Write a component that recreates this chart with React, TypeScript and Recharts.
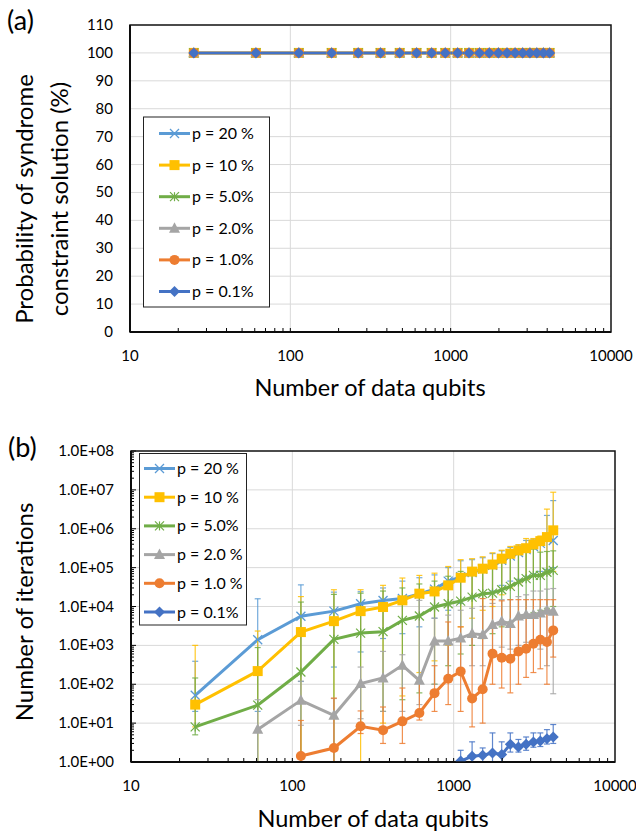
import { CartesianGrid, ErrorBar, Line, LineChart, XAxis, YAxis } from 'recharts'

const FONT = 'Lato, "Open Sans", sans-serif'

// number of data qubits (x)
const qubits = [25, 61, 113, 181, 265, 365, 481, 613, 761, 925, 1105, 1301, 1513, 1741, 1985, 2245, 2521, 2813, 3121, 3445, 3785, 4141]

// (a) probability of syndrome constraint solution (%)
const probP20 = [100, 100, 100, 100, 100, 100, 100, 100, 100, 100, 100, 100, 100, 100, 100, 100, 100, 100, 100, 100, 100, 100]
const probP10 = [100, 100, 100, 100, 100, 100, 100, 100, 100, 100, 100, 100, 100, 100, 100, 100, 100, 100, 100, 100, 100, 100]
const probP5 = [100, 100, 100, 100, 100, 100, 100, 100, 100, 100, 100, 100, 100, 100, 100, 100, 100, 100, 100, 100, 100, 100]
const probP2 = [100, 100, 100, 100, 100, 100, 100, 100, 100, 100, 100, 100, 100, 100, 100, 100, 100, 100, 100, 100, 100, 100]
const probP1 = [100, 100, 100, 100, 100, 100, 100, 100, 100, 100, 100, 100, 100, 100, 100, 100, 100, 100, 100, 100, 100, 100]
const probP01 = [100, 100, 100, 100, 100, 100, 100, 100, 100, 100, 100, 100, 100, 100, 100, 100, 100, 100, 100, 100, 100, 100]

// (b) number of iterations, with error bar ends (lo / hi)
const iterP20 = [52, 1400, 5600, 7600, 11800, 14300, 16000, 21000, 28000, 45000, 58000, 75000, 92000, 115000, 155000, 200000, 245000, 290000, 350000, 420000, 560000, 500000]
const hiP20 = [390, 15800, 36000, 23400, 24000, 30000, 45000, 55000, 65000, 100000, 150000, 160000, 180000, 230000, 270000, 330000, 380000, 500000, 540000, 620000, 2200000, 5300000]
const loP20 = [20, 20, 118, 277, 676, 1500, 2000, 3000, 5000, 8000, 12000, 16000, 20000, 25000, 35000, 45000, 50000, 60000, 70000, 80000, 90000, 100000]

const iterP10 = [30, 218, 2200, 4200, 7600, 9700, 14400, 21400, 24400, 35000, 55000, 79000, 94000, 120000, 170000, 228000, 277000, 316000, 395000, 480000, 610000, 910000]
const hiP10 = [1000, 2340, 18000, 27000, 27000, 35000, 54000, 63000, 72000, 107000, 160000, 170000, 190000, 240000, 280000, 350000, 390000, 560000, 560000, 650000, 3200000, 8700000]
const loP10 = [8, 1, 1, 1, 1, 10, 50, 200, 400, 1000, 3000, 5000, 8000, 10000, 20000, 30000, 40000, 50000, 60000, 60000, 70000, 80000]

const iterP5 = [8, 29, 206, 1430, 2070, 2250, 4400, 5700, 9700, 11800, 13800, 17400, 21400, 22100, 27000, 33000, 42600, 51900, 63000, 63000, 76000, 85000]
const hiP5 = [145, 880, 13000, 20500, 22000, 25000, 30000, 38000, 45000, 60000, 80000, 90000, 110000, 130000, 160000, 200000, 240000, 260000, 300000, 250000, 260000, 270000]
const loP5 = [5, 1, 1, 1, 10, 20, 40, 60, 100, 300, 600, 1000, 1500, 2000, 3000, 4000, 5000, 6000, 7000, 8000, 9000, 10000]

const iterP2 = [null, 6.9, 38.5, 15.9, 104, 145, 306, 126, 1290, 1290, 1540, 2000, 1880, 3400, 4150, 3620, 5660, 6150, 6150, 6770, 7940, 7500]
const hiP2 = [null, 40, 120, 43, 277, 700, 575, 14400, 5000, 6000, 8000, 9000, 10000, 12000, 15000, 15000, 18000, 20000, 25000, 25000, 28000, 29000]
const loP2 = [null, 1, 8.8, 1, 13, 20, 20, 30, 100, 150, 200, 300, 300, 700, 900, 800, 1000, 1200, 1000, 800, 300, 57]

const iterP1 = [null, null, 1.43, 2.29, 8.3, 6.6, 11.1, 18.2, 59, 139, 214, 43, 74, 613, 480, 455, 700, 820, 1100, 1400, 1217, 2430]
const hiP1 = [null, null, 11.7, 44, 20.6, 26, 80, 110, 300, 4000, 3000, 2000, 16000, 15000, 14000, 15000, 15000, 15000, 15000, 15000, 15000, 15000]
const loP1 = [null, null, 1, 1, 5.4, 3, 3, 12, 20, 30, 20, 8, 10, 100, 80, 60, 100, 150, 200, 250, 100, 500]

const iterP01 = [null, null, null, null, null, null, null, null, null, null, 1.06, 1.4, 1.49, 1.7, 1.55, 2.85, 2.43, 2.85, 3.27, 3.47, 3.98, 4.4]
const hiP01 = [null, null, null, null, null, null, null, null, null, null, 2.0, 3.3, 2.3, 5.6, 3.3, 5.6, 3.8, 4.4, 5.6, 5.6, 6.8, 9.2]
const loP01 = [null, null, null, null, null, null, null, null, null, null, 1, 1, 1, 1, 1, 1.8, 1.8, 2, 2.4, 2.5, 2.9, 3]

const legendA = ['p = 20 %', 'p = 10 %', 'p = 5.0%', 'p = 2.0%', 'p = 1.0%', 'p = 0.1%']
const legendB = ['p = 20 %', 'p = 10 %', 'p = 5.0%', 'p = 2.0 %', 'p = 1.0 %', 'p = 0.1%']

const xTicks = [10, 20, 30, 40, 50, 60, 70, 80, 90, 100, 200, 300, 400, 500, 600, 700, 800, 900, 1000, 2000, 3000, 4000, 5000, 6000, 7000, 8000, 9000, 10000]
const xMajor = [10, 100, 1000, 10000]
const yTicksA = [0, 10, 20, 30, 40, 50, 60, 70, 80, 90, 100, 110]
const yDecades = [1, 10, 100, 1000, 10000, 100000, 1000000, 10000000, 100000000]

type Shape = 'x' | 'square' | 'star' | 'triangle' | 'circle' | 'diamond'

const series: { key: string; color: string; shape: Shape; size: number; prob: number[]; iter: (number | null)[]; hi: (number | null)[]; lo: (number | null)[] }[] = [
  { key: 'p20', color: '#5B9BD5', shape: 'x', size: 9, prob: probP20, iter: iterP20, hi: hiP20, lo: loP20 },
  { key: 'p10', color: '#FFC000', shape: 'square', size: 10, prob: probP10, iter: iterP10, hi: hiP10, lo: loP10 },
  { key: 'p5', color: '#70AD47', shape: 'star', size: 9, prob: probP5, iter: iterP5, hi: hiP5, lo: loP5 },
  { key: 'p2', color: '#A5A5A5', shape: 'triangle', size: 11, prob: probP2, iter: iterP2, hi: hiP2, lo: loP2 },
  { key: 'p1', color: '#ED7D31', shape: 'circle', size: 10, prob: probP1, iter: iterP1, hi: hiP1, lo: loP1 },
  { key: 'p01', color: '#4472C4', shape: 'diamond', size: 11, prob: probP01, iter: iterP01, hi: hiP01, lo: loP01 },
]

const dataA = qubits.map((n, i) => {
  const row: any = { n }
  series.forEach((s) => (row[s.key] = s.prob[i]))
  return row
})

const dataB = qubits.map((n, i) => {
  const row: any = { n }
  series.forEach((s) => {
    const v = s.iter[i]
    row[s.key] = v
    if (v != null) row[s.key + 'Err'] = [v - (s.lo[i] as number), (s.hi[i] as number) - v]
  })
  return row
})

const yTicksB = [...yDecades, ...yDecades.slice(0, -1).flatMap((d) => [2, 3, 4, 5, 6, 7, 8, 9].map((k) => k * d))]

const Marker = ({ shape, color, cx, cy, s }: { shape: Shape; color: string; cx: number; cy: number; s: number }) => {
  const h = s / 2
  if (shape === 'x')
    return (
      <g stroke={color} strokeWidth={1.3}>
        <line x1={cx - h} y1={cy - h} x2={cx + h} y2={cy + h} />
        <line x1={cx - h} y1={cy + h} x2={cx + h} y2={cy - h} />
      </g>
    )
  if (shape === 'star')
    return (
      <g stroke={color} strokeWidth={1.2}>
        <line x1={cx - h} y1={cy - h} x2={cx + h} y2={cy + h} />
        <line x1={cx - h} y1={cy + h} x2={cx + h} y2={cy - h} />
        <line x1={cx} y1={cy - h} x2={cx} y2={cy + h} />
      </g>
    )
  if (shape === 'square') return <rect x={cx - h} y={cy - h} width={s} height={s} fill={color} />
  if (shape === 'triangle') return <polygon points={`${cx},${cy - h * 1.1} ${cx + h},${cy + h * 0.8} ${cx - h},${cy + h * 0.8}`} fill={color} />
  if (shape === 'circle') return <circle cx={cx} cy={cy} r={h} fill={color} />
  return <polygon points={`${cx},${cy - h} ${cx + h},${cy} ${cx},${cy + h} ${cx - h},${cy}`} fill={color} />
}

const dotFor = (shape: Shape, color: string, s: number) => (p: any) => {
  if (p.cx == null || p.cy == null || p.value == null) return <g key={`e-${p.index}`} />
  return <Marker key={`m-${p.index}`} shape={shape} color={color} cx={p.cx} cy={p.cy} s={s} />
}

const xTick = (p: any) => {
  const v = p.payload.value
  return (
    <g key={`xt-${v}`}>
      {v !== 10 && v !== 10000 && <line x1={p.x} x2={p.x} y1={p.y} y2={p.y - 4} stroke="#000" />}
      {xMajor.includes(v) && (
        <text x={p.x} y={p.y + 29} textAnchor="middle" fontSize={15} fontFamily={FONT} fill="#000">
          {v}
        </text>
      )}
    </g>
  )
}

const yTickA = (p: any) => (
  <text key={`ya-${p.payload.value}`} x={p.x - 17} y={p.y + 5} textAnchor="end" fontSize={15} fontFamily={FONT} fill="#000">
    {p.payload.value}
  </text>
)

const sci = (v: number) => `1.0E+${String(Math.round(Math.log10(v))).padStart(2, '0')}`

const yTickB = (p: any) => {
  const v = p.payload.value
  const major = yDecades.includes(v)
  return (
    <g key={`yb-${v}`}>
      <line x1={p.x} x2={p.x + (major ? 5 : 3)} y1={p.y} y2={p.y} stroke="#000" />
      {major && (
        <text x={p.x - 17} y={p.y + 5} textAnchor="end" fontSize={15} fontFamily={FONT} fill="#000">
          {sci(v)}
        </text>
      )}
    </g>
  )
}

const Legend = ({ x, y, w, h, first, step, lineX, labels }: { x: number; y: number; w: number; h: number; first: number; step: number; lineX: number; labels: string[] }) => (
  <g>
    <rect x={x} y={y} width={w} height={h} fill="#fff" stroke="#222" strokeWidth={1} />
    {series.map((s, i) => {
      const cy = first + i * step
      return (
        <g key={s.key}>
          <line x1={lineX} x2={lineX + 31} y1={cy} y2={cy} stroke={s.color} strokeWidth={3} />
          <Marker shape={s.shape} color={s.color} cx={lineX + 15.5} cy={cy} s={s.size} />
          <text x={lineX + 33} y={cy + 5.5} fontSize={16} fontFamily={FONT} fill="#000">
            {labels[i]}
          </text>
        </g>
      )
    })}
  </g>
)

export default function App() {
  return (
    <div style={{ position: 'absolute', left: 0, top: 0, width: 636, height: 832, background: '#fff' }}>
      <div style={{ position: 'absolute', left: 0, top: 0 }}>
        <LineChart width={636} height={400} data={dataA} margin={{ top: 25, right: 25, bottom: 0, left: 0 }}>
          <CartesianGrid stroke="#d9d9d9" horizontalValues={[10, 20, 30, 40, 50, 60, 70, 80, 90, 100]} verticalValues={[100, 1000]} />
          <XAxis dataKey="n" type="number" scale="log" domain={[10, 10000]} ticks={xTicks} interval={0} allowDataOverflow height={68} tickSize={0} tickMargin={0} tickLine={false} axisLine={{ stroke: '#000', strokeWidth: 2 }} tick={xTick} />
          <YAxis type="number" domain={[0, 110]} ticks={yTicksA} interval={0} allowDataOverflow width={130} tickSize={0} tickMargin={0} tickLine={false} axisLine={{ stroke: '#000', strokeWidth: 2 }} tick={yTickA} />
          {series.map((s) => (
            <Line key={s.key} dataKey={s.key} stroke={s.color} strokeWidth={2.5} dot={dotFor(s.shape, s.color, s.size)} activeDot={false} isAnimationActive={false} />
          ))}
        </LineChart>
      </div>
      <div style={{ position: 'absolute', left: 0, top: 420 }}>
        <LineChart width={636} height={412} data={dataB} margin={{ top: 31, right: 21, bottom: 0, left: 0 }}>
          <CartesianGrid stroke="#d9d9d9" horizontalValues={[10, 100, 1000, 10000, 100000, 1000000, 10000000]} verticalValues={[100, 1000]} />
          <XAxis dataKey="n" type="number" scale="log" domain={[10, 10000]} ticks={xTicks} interval={0} allowDataOverflow height={70} tickSize={0} tickMargin={0} tickLine={false} axisLine={{ stroke: '#000', strokeWidth: 2 }} tick={xTick} />
          <YAxis type="number" scale="log" domain={[1, 100000000]} ticks={yTicksB} interval={0} allowDataOverflow width={131} tickSize={0} tickMargin={0} tickLine={false} axisLine={{ stroke: '#000', strokeWidth: 2 }} tick={yTickB} />
          {series.map((s) => (
            <Line key={s.key} dataKey={s.key} stroke={s.color} strokeWidth={3} dot={dotFor(s.shape, s.color, s.size)} activeDot={false} isAnimationActive={false}>
              <ErrorBar dataKey={s.key + 'Err'} direction="y" width={3} stroke={s.color} strokeWidth={1.2} strokeOpacity={0.85} isAnimationActive={false} />
            </Line>
          ))}
        </LineChart>
      </div>
      <svg width={636} height={832} style={{ position: 'absolute', left: 0, top: 0, pointerEvents: 'none' }}>
        <rect x={130} y={25} width={481} height={307} fill="none" stroke="#111" strokeWidth={1.5} />
        <rect x={131} y={451} width={484} height={311} fill="none" stroke="#111" strokeWidth={1.5} />
        <Legend x={143.5} y={117} w={126} h={190} first={133.5} step={31.6} lineX={159} labels={legendA} />
        <Legend x={139.5} y={453.5} w={107} h={171.5} first={468.5} step={28.7} lineX={144} labels={legendB} />
        <g fontFamily={FONT} fill="#000">
          <text x={7} y={30} fontSize={27}>(a)</text>
          <text x={8} y={457} fontSize={27}>(b)</text>
          <text x={33} y={199} fontSize={24} textAnchor="middle" transform="rotate(-90 33 199)">Probability of syndrome</text>
          <text x={68} y={199} fontSize={24} textAnchor="middle" transform="rotate(-90 68 199)">constraint solution (%)</text>
          <text x={370} y={396} fontSize={23.5} textAnchor="middle">Number of data qubits</text>
          <text x={33} y={612} fontSize={24} textAnchor="middle" transform="rotate(-90 33 612)">Number of iterations</text>
          <text x={373} y={827} fontSize={23.5} textAnchor="middle">Number of data qubits</text>
        </g>
      </svg>
    </div>
  )
}
